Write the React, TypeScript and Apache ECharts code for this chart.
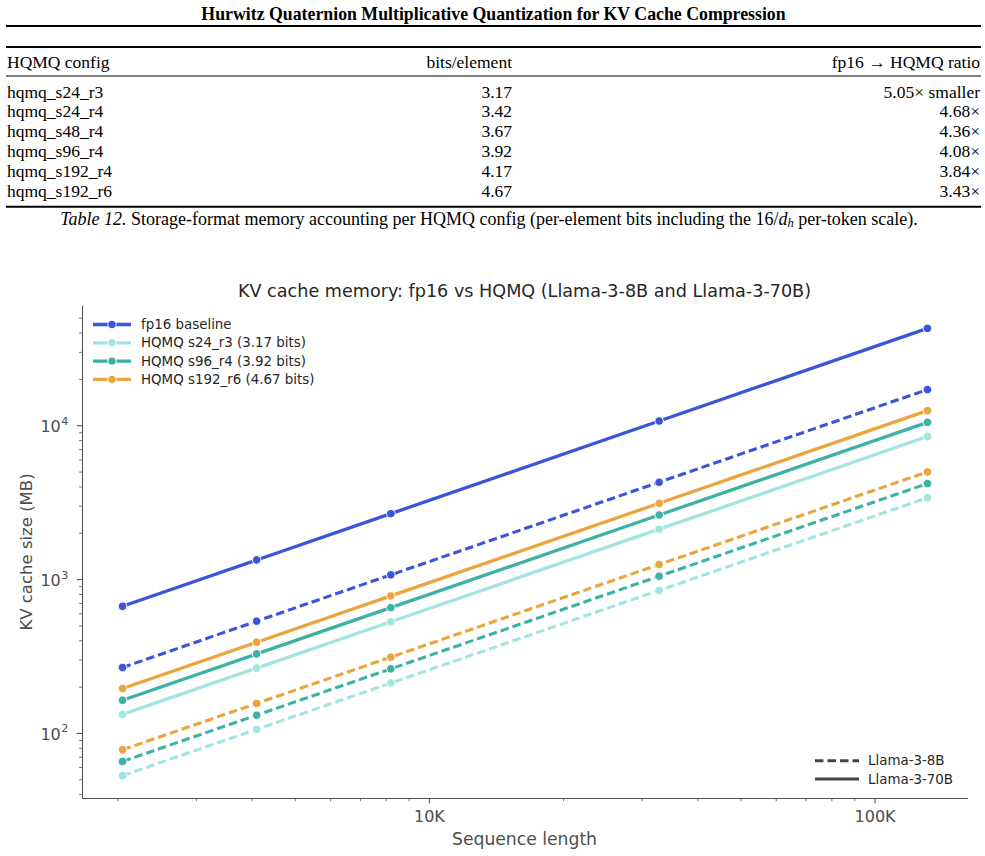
import React, { useEffect, useRef } from 'react';
import * as echarts from 'echarts';

// ---------- Table data ----------
const tableTitle = 'Hurwitz Quaternion Multiplicative Quantization for KV Cache Compression';
const tableHeaders = ['HQMQ config', 'bits/element', 'fp16 → HQMQ ratio'];
const tableConfigs = ['hqmq_s24_r3', 'hqmq_s24_r4', 'hqmq_s48_r4', 'hqmq_s96_r4', 'hqmq_s192_r4', 'hqmq_s192_r6'];
const tableBits = ['3.17', '3.42', '3.67', '3.92', '4.17', '4.67'];
const tableRatios = ['5.05× smaller', '4.68×', '4.36×', '4.08×', '3.84×', '3.43×'];

// ---------- Chart data ----------
const chartTitle = 'KV cache memory: fp16 vs HQMQ (Llama-3-8B and Llama-3-70B)';
const xAxisTitle = 'Sequence length';
const yAxisTitle = 'KV cache size (MB)';
const seqLengths = [2048, 4096, 8192, 32768, 131072];
const fp16_70B = [671.1, 1342.2, 2684.4, 10737.4, 42949.7];
const fp16_8B = [268.4, 536.9, 1073.7, 4295.0, 17179.9];
const s24r3_70B = [133.0, 265.9, 531.9, 2127.3, 8509.4];
const s24r3_8B = [53.2, 106.4, 212.7, 850.9, 3403.8];
const s96r4_70B = [164.4, 328.8, 657.7, 2630.7, 10522.7];
const s96r4_8B = [65.8, 131.5, 263.1, 1052.3, 4209.1];
const s192r6_70B = [195.9, 391.8, 783.5, 3134.0, 12536.2];
const s192r6_8B = [78.4, 156.7, 313.4, 1253.6, 5014.4];
const configNames = ['fp16 baseline', 'HQMQ s24_r3 (3.17 bits)', 'HQMQ s96_r4 (3.92 bits)', 'HQMQ s192_r6 (4.67 bits)'];
const configColors = ['#3a55d9', '#a2e4e0', '#3bb2a3', '#eca43c'];
const modelNames = ['Llama-3-8B', 'Llama-3-70B'];

const xMajorTicks = [10000, 100000];
const xMajorLabels = ['10K', '100K'];
const xMinorTicks = [2000, 3000, 4000, 5000, 6000, 7000, 8000, 9000, 20000, 30000, 40000, 50000, 60000, 70000, 80000, 90000];
const yMajorTicks = [100, 1000, 10000];
const yMajorExponents = ['2', '3', '4'];
const yMinorTicks = [40, 50, 60, 70, 80, 90, 200, 300, 400, 500, 600, 700, 800, 900, 2000, 3000, 4000, 5000, 6000, 7000, 8000, 9000, 20000, 30000, 40000, 50000];

const X_MIN = 1663.5;
const X_MAX = 161400;
const Y_MIN = 38.06;
const Y_MAX = 60040;

const SANS = '"DejaVu Sans", sans-serif';
const SERIF = '"Liberation Serif", serif';
const TICK_COLOR = '#4d4d4d';
const SPINE_COLOR = '#555555';
const DASH = [8.5, 4];

function buildOption() {
  const graphic: any[] = [];
  // ---- table ----
  const L = 6, R = 981;
  const rule = (y: number, w: number) => ({ type: 'line', shape: { x1: L, y1: y, x2: R, y2: y }, style: { stroke: '#000', lineWidth: w } });
  graphic.push({ type: 'text', x: 493.5, y: 14, style: { text: tableTitle, fontFamily: SERIF, fontWeight: 'bold', fontSize: 17.8, fill: '#000', align: 'center', verticalAlign: 'middle' } });
  graphic.push(rule(26, 2), rule(47, 2), rule(76, 1), rule(206.8, 2));
  const tStyle = { fontFamily: SERIF, fontSize: 17.5, fill: '#000', verticalAlign: 'middle' };
  graphic.push({ type: 'text', x: 7, y: 62, style: { ...tStyle, text: tableHeaders[0], align: 'left' } });
  graphic.push({ type: 'text', x: 512, y: 62, style: { ...tStyle, text: tableHeaders[1], align: 'right' } });
  graphic.push({ type: 'text', x: 980, y: 62, style: { ...tStyle, text: tableHeaders[2], align: 'right' } });
  tableConfigs.forEach((c, i) => {
    const y = 91.5 + i * 19.8;
    graphic.push({ type: 'text', x: 7, y, style: { ...tStyle, text: c, align: 'left' } });
    graphic.push({ type: 'text', x: 512, y, style: { ...tStyle, text: tableBits[i], align: 'right' } });
    graphic.push({ type: 'text', x: 980, y, style: { ...tStyle, text: tableRatios[i], align: 'right' } });
  });
  const CAP = 18;
  graphic.push({
    type: 'text', x: 489, y: 219,
    style: {
      text: '{it|Table 12.}{n| Storage-format memory accounting per HQMQ config (per-element bits including the 16/}{it|d}{sub|h}{n| per-token scale).}',
      align: 'center', verticalAlign: 'middle', fill: '#000', fontFamily: SERIF, fontSize: CAP,
      rich: {
        n: { fontFamily: SERIF, fontSize: CAP, fill: '#000', lineHeight: 21 },
        it: { fontFamily: SERIF, fontSize: CAP, fontStyle: 'italic', fill: '#000', lineHeight: 21 },
        sub: { fontFamily: SERIF, fontSize: 12.5, fontStyle: 'italic', fill: '#000', lineHeight: 13, verticalAlign: 'bottom' },
      },
    },
  });

  // ---- chart texts ----
  graphic.push({ type: 'text', x: 524.5, y: 291, style: { text: chartTitle, fontFamily: SANS, fontSize: 17.6, fill: '#262626', align: 'center', verticalAlign: 'middle' } });
  graphic.push({ type: 'text', x: 524.5, y: 838.5, style: { text: xAxisTitle, fontFamily: SANS, fontSize: 17.2, fill: TICK_COLOR, align: 'center', verticalAlign: 'middle' } });
  graphic.push({ type: 'text', x: 26, y: 552, rotation: Math.PI / 2, style: { text: yAxisTitle, fontFamily: SANS, fontSize: 16.5, fill: TICK_COLOR, align: 'center', verticalAlign: 'middle' } });

  // ---- legend 1 ----
  configNames.forEach((name, i) => {
    const y = 324.5 + i * 18.3;
    graphic.push({ type: 'line', shape: { x1: 93, y1: y, x2: 131, y2: y }, style: { stroke: configColors[i], lineWidth: 3.3 } });
    graphic.push({ type: 'circle', shape: { cx: 112, cy: y, r: 4.2 }, style: { fill: configColors[i], stroke: '#fff', lineWidth: 1 } });
    graphic.push({ type: 'text', x: 141, y, style: { text: name, fontFamily: SANS, fontSize: 13.4, fill: '#262626', align: 'left', verticalAlign: 'middle' } });
  });
  // ---- legend 2 ----
  modelNames.forEach((name, i) => {
    const y = 760.7 + i * 18.3;
    graphic.push({ type: 'line', shape: { x1: 815, y1: y, x2: 859, y2: y }, style: { stroke: '#444', lineWidth: 3, lineDash: i === 0 ? DASH : null } });
    graphic.push({ type: 'text', x: 868, y, style: { text: name, fontFamily: SANS, fontSize: 13.4, fill: '#262626', align: 'left', verticalAlign: 'middle' } });
  });

  const d70 = [fp16_70B, s24r3_70B, s96r4_70B, s192r6_70B];
  const d8 = [fp16_8B, s24r3_8B, s96r4_8B, s192r6_8B];
  const lineSeries: any[] = [];
  configNames.forEach((name, i) => {
    const common = {
      type: 'line', symbol: 'circle', symbolSize: 8.5, showSymbol: true, silent: true,
      itemStyle: { color: configColors[i], borderColor: '#fff', borderWidth: 1 },
      emphasis: { disabled: true },
    };
    lineSeries.push({ ...common, name: name + ' — ' + modelNames[0], data: seqLengths.map((x, k) => [x, d8[i][k]]), lineStyle: { color: configColors[i], width: 3.1, type: DASH, cap: 'butt' } });
    lineSeries.push({ ...common, name: name + ' — ' + modelNames[1], data: seqLengths.map((x, k) => [x, d70[i][k]]), lineStyle: { color: configColors[i], width: 3.3 } });
  });

  const xTickData = [
    ...xMajorTicks.map((v, i) => [v, Y_MIN, 1, i]),
    ...xMinorTicks.map((v) => [v, Y_MIN, 0, -1]),
  ];
  const yTickData = [
    ...yMajorTicks.map((v, i) => [X_MIN, v, 1, i]),
    ...yMinorTicks.map((v) => [X_MIN, v, 0, -1]),
  ];

  const xTickSeries = {
    type: 'custom', silent: true, clip: false, z: 5,
    data: xTickData,
    encode: { x: 0, y: 1 },
    renderItem: (params: any, api: any) => {
      const v = api.value(0);
      const major = api.value(2) === 1;
      const p = api.coord([v, Y_MIN]);
      const len = major ? 5.6 : 3.2;
      const children: any[] = [
        { type: 'line', shape: { x1: p[0], y1: p[1], x2: p[0], y2: p[1] + len }, style: { stroke: SPINE_COLOR, lineWidth: major ? 1.1 : 0.8 } },
      ];
      if (major) {
        children.push({ type: 'text', x: p[0], y: p[1] + 18.5, style: { text: xMajorLabels[api.value(3)], fontFamily: SANS, fontSize: 16, fill: TICK_COLOR, align: 'center', verticalAlign: 'middle' } });
      }
      return { type: 'group', children };
    },
  };
  const yTickSeries = {
    type: 'custom', silent: true, clip: false, z: 5,
    data: yTickData,
    encode: { x: 0, y: 1 },
    renderItem: (params: any, api: any) => {
      const v = api.value(1);
      const major = api.value(2) === 1;
      const p = api.coord([X_MIN, v]);
      const len = major ? 5.6 : 3.2;
      const children: any[] = [
        { type: 'line', shape: { x1: p[0] - len, y1: p[1], x2: p[0], y2: p[1] }, style: { stroke: SPINE_COLOR, lineWidth: major ? 1.1 : 0.8 } },
      ];
      if (major) {
        children.push({ type: 'text', x: p[0] - 21.5, y: p[1] + 1, style: { text: '10', fontFamily: SANS, fontSize: 16, fill: TICK_COLOR, align: 'right', verticalAlign: 'middle' } });
        children.push({ type: 'text', x: p[0] - 14, y: p[1] - 4.5, style: { text: yMajorExponents[api.value(3)], fontFamily: SANS, fontSize: 11.2, fill: TICK_COLOR, align: 'right', verticalAlign: 'middle' } });
      }
      return { type: 'group', children };
    },
  };

  return {
    animation: false,
    backgroundColor: '#ffffff',
    grid: { left: 82.3, top: 306, right: 17.3, bottom: 58, containLabel: false },
    xAxis: {
      type: 'log', logBase: 10, min: X_MIN, max: X_MAX,
      axisLine: { show: true, lineStyle: { color: SPINE_COLOR, width: 1.1 } },
      axisTick: { show: false }, axisLabel: { show: false }, splitLine: { show: false }, minorTick: { show: false },
    },
    yAxis: {
      type: 'log', logBase: 10, min: Y_MIN, max: Y_MAX,
      axisLine: { show: true, lineStyle: { color: SPINE_COLOR, width: 1.1 } },
      axisTick: { show: false }, axisLabel: { show: false }, splitLine: { show: false }, minorTick: { show: false },
    },
    graphic,
    series: [...lineSeries, xTickSeries, yTickSeries],
  };
}

export default function App() {
  const ref = useRef<HTMLDivElement>(null);
  useEffect(() => {
    const chart = echarts.init(ref.current as HTMLDivElement, null, { renderer: 'svg' });
    chart.setOption(buildOption() as any);
    return () => chart.dispose();
  }, []);
  return <div ref={ref} style={{ position: 'absolute', left: 0, top: 0, width: 985, height: 856, background: '#fff' }} />;
}
